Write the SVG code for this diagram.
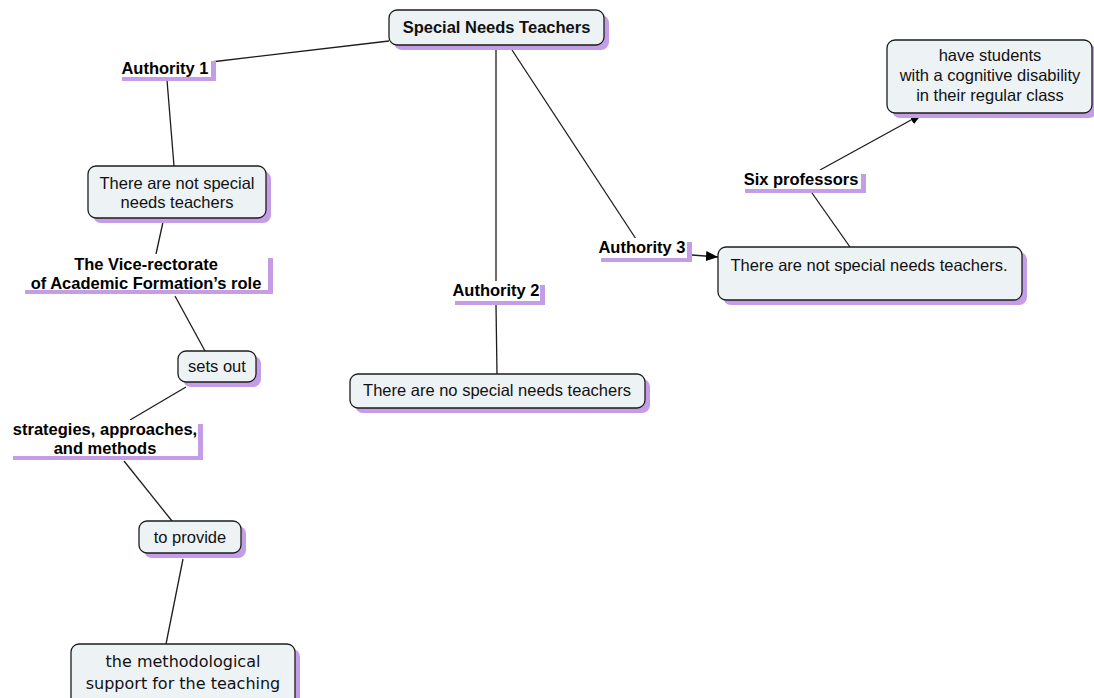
<svg xmlns="http://www.w3.org/2000/svg" width="1094" height="698" viewBox="0 0 1094 698">
  <defs>
    <style>
      .shadow { fill: #c49de6; }
      .box { fill: #edf2f5; stroke: #1c1c1c; stroke-width: 1.3; }
      .lbl { fill: #ffffff; }
      .ct { font-family: "Liberation Sans", Arial, sans-serif; font-size: 16.5px; fill: #111; text-anchor: middle; }
      .ctv { font-family: "DejaVu Sans", Verdana, sans-serif; font-size: 16px; fill: #111; text-anchor: middle; }
      .lt { font-family: "Liberation Sans", Arial, sans-serif; font-size: 16.5px; font-weight: bold; fill: #000; text-anchor: middle; }
      .link { stroke: #1c1c1c; stroke-width: 1.3; fill: none; }
    </style>
    <marker id="arrow" viewBox="0 0 12 10" refX="12" refY="5" markerWidth="12" markerHeight="10" markerUnits="userSpaceOnUse" orient="auto">
      <path d="M0,0 L12,5 L0,10 Z" fill="#000"/>
    </marker>
  </defs>
  <rect width="1094" height="698" fill="#ffffff"/>

  <!-- connectors -->
  <g id="connectors">
    <line class="link" x1="389" y1="41" x2="211" y2="62"/>
    <line class="link" x1="167" y1="80" x2="174" y2="166"/>
    <line class="link" x1="163" y1="222" x2="156" y2="254"/>
    <line class="link" x1="175" y1="296" x2="205" y2="351"/>
    <line class="link" x1="186" y1="387" x2="130" y2="420"/>
    <line class="link" x1="124" y1="461" x2="172" y2="521"/>
    <line class="link" x1="183" y1="559" x2="166" y2="644"/>
    <line class="link" x1="496" y1="50" x2="496" y2="281"/>
    <line class="link" x1="496" y1="305" x2="497" y2="374"/>
    <line class="link" x1="512" y1="50" x2="636" y2="239"/>
    <line class="link" x1="692" y1="255" x2="718" y2="257" marker-end="url(#arrow)"/>
    <line class="link" x1="850" y1="247" x2="812" y2="193"/>
    <line class="link" x1="820" y1="170" x2="922" y2="114" marker-end="url(#arrow)"/>
  </g>

  <!-- concept: Special Needs Teachers -->
  <g id="special-needs-teachers">
    <rect class="shadow" x="394" y="15" width="215" height="35" rx="8"/>
    <rect class="box" x="389" y="10" width="215" height="35" rx="8"/>
    <text class="ct" x="496.5" y="33" font-weight="bold">Special Needs Teachers</text>
  </g>

  <!-- linking phrase: Authority 1 -->
  <g id="authority-1">
    <rect class="shadow" x="122" y="61" width="94" height="20"/>
    <rect class="lbl" x="117" y="57" width="94" height="20"/>
    <text class="lt" x="165" y="73.5">Authority 1</text>
  </g>

  <g id="no-special-teachers-1">
    <rect class="shadow" x="93" y="171" width="178" height="52" rx="8"/>
    <rect class="box" x="88" y="166" width="178" height="52" rx="8"/>
    <text class="ct" x="177" y="189">There are not special</text>
    <text class="ct" x="177" y="208">needs teachers</text>
  </g>

  <g id="vice-rectorate">
    <rect class="shadow" x="25" y="258" width="248" height="36"/>
    <rect class="lbl" x="20" y="254" width="248" height="36"/>
    <text class="lt" x="146" y="270">The Vice-rectorate</text>
    <text class="lt" x="146" y="289">of Academic Formation’s role</text>
  </g>

  <g id="sets-out">
    <rect class="shadow" x="183" y="356" width="78" height="31" rx="8"/>
    <rect class="box" x="178" y="351" width="78" height="31" rx="8"/>
    <text class="ct" x="217" y="372">sets out</text>
  </g>

  <g id="strategies">
    <rect class="shadow" x="13" y="424" width="190" height="36"/>
    <rect class="lbl" x="8" y="420" width="190" height="36"/>
    <text class="lt" x="105" y="435">strategies, approaches,</text>
    <text class="lt" x="105" y="454">and methods</text>
  </g>

  <g id="to-provide">
    <rect class="shadow" x="144" y="526" width="102" height="32" rx="8"/>
    <rect class="box" x="139" y="521" width="102" height="32" rx="8"/>
    <text class="ct" x="190" y="543">to provide</text>
  </g>

  <g id="methodological-support">
    <rect class="shadow" x="76" y="649" width="224" height="62" rx="8"/>
    <rect class="box" x="71" y="644" width="224" height="62" rx="8"/>
    <text class="ctv" x="183" y="667">the methodological</text>
    <text class="ctv" x="183" y="689">support for the teaching</text>
  </g>

  <g id="authority-2">
    <rect class="shadow" x="455" y="285" width="90" height="20"/>
    <rect class="lbl" x="450" y="281" width="90" height="20"/>
    <text class="lt" x="496" y="296">Authority 2</text>
  </g>

  <g id="no-special-teachers-2">
    <rect class="shadow" x="355" y="379" width="295" height="34" rx="8"/>
    <rect class="box" x="350" y="374" width="295" height="34" rx="8"/>
    <text class="ct" x="497" y="396">There are no special needs teachers</text>
  </g>

  <g id="authority-3">
    <rect class="shadow" x="601" y="242" width="91" height="20"/>
    <rect class="lbl" x="596" y="238" width="91" height="20"/>
    <text class="lt" x="642" y="253">Authority 3</text>
  </g>

  <g id="no-special-teachers-3">
    <rect class="shadow" x="723" y="252" width="304" height="53" rx="8"/>
    <rect class="box" x="718" y="247" width="304" height="53" rx="8"/>
    <text class="ct" x="869" y="271">There are not special needs teachers.</text>
  </g>

  <g id="six-professors">
    <rect class="shadow" x="745" y="174" width="121" height="19"/>
    <rect class="lbl" x="740" y="170" width="121" height="19"/>
    <text class="lt" x="801" y="185">Six professors</text>
  </g>

  <g id="have-students">
    <rect class="shadow" x="892" y="45" width="205" height="73" rx="8"/>
    <rect class="box" x="887" y="40" width="205" height="73" rx="8"/>
    <text class="ct" x="990" y="61">have students</text>
    <text class="ct" x="990" y="81">with a cognitive disability</text>
    <text class="ct" x="990" y="101">in their regular class</text>
  </g>
</svg>
